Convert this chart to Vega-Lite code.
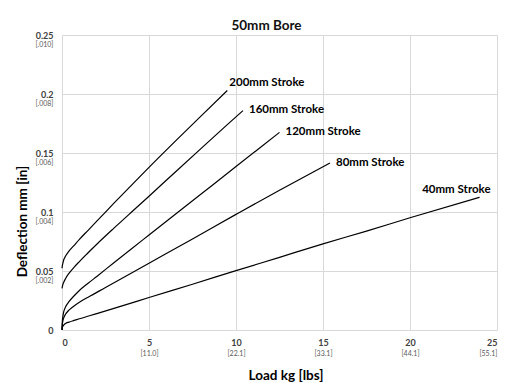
{
  "$schema": "https://vega.github.io/schema/vega-lite/v6.json",
  "width": 435,
  "height": 295,
  "autosize": {"type": "none"},
  "padding": {"left": 62, "top": 35, "right": 26, "bottom": 53},
  "background": "white",
  "config": {"font": "Lato", "view": {"stroke": null}},
  "title": {"text": "50mm Bore", "font": "Lato", "fontSize": 13.5, "fontWeight": "bold", "color": "#111111", "anchor": "middle", "frame": "group", "dx": -13, "offset": -1},
  "datasets": {
    "curves": [
      {"series": "40mm", "kg": 0, "defl": 0},
      {"series": "40mm", "kg": 0.02, "defl": 0.0022},
      {"series": "40mm", "kg": 0.05, "defl": 0.0032},
      {"series": "40mm", "kg": 0.1, "defl": 0.0042},
      {"series": "40mm", "kg": 0.2, "defl": 0.0055},
      {"series": "40mm", "kg": 0.4, "defl": 0.0067},
      {"series": "40mm", "kg": 0.7, "defl": 0.0081},
      {"series": "40mm", "kg": 1, "defl": 0.0095},
      {"series": "40mm", "kg": 2, "defl": 0.0139},
      {"series": "40mm", "kg": 3.5, "defl": 0.0206},
      {"series": "40mm", "kg": 5, "defl": 0.0275},
      {"series": "40mm", "kg": 7.5, "defl": 0.0388},
      {"series": "40mm", "kg": 10, "defl": 0.0503},
      {"series": "40mm", "kg": 12.5, "defl": 0.0616},
      {"series": "40mm", "kg": 15, "defl": 0.073},
      {"series": "40mm", "kg": 17.5, "defl": 0.0838},
      {"series": "40mm", "kg": 20, "defl": 0.0951},
      {"series": "40mm", "kg": 24, "defl": 0.1125},
      {"series": "80mm", "kg": 0, "defl": 0},
      {"series": "80mm", "kg": 0.02, "defl": 0.0048},
      {"series": "80mm", "kg": 0.05, "defl": 0.0077},
      {"series": "80mm", "kg": 0.1, "defl": 0.0103},
      {"series": "80mm", "kg": 0.2, "defl": 0.0133},
      {"series": "80mm", "kg": 0.35, "defl": 0.0161},
      {"series": "80mm", "kg": 0.6, "defl": 0.0193},
      {"series": "80mm", "kg": 1, "defl": 0.0235},
      {"series": "80mm", "kg": 1.5, "defl": 0.0278},
      {"series": "80mm", "kg": 2.5, "defl": 0.036},
      {"series": "80mm", "kg": 5, "defl": 0.0566},
      {"series": "80mm", "kg": 7.5, "defl": 0.0772},
      {"series": "80mm", "kg": 10, "defl": 0.098},
      {"series": "80mm", "kg": 12.5, "defl": 0.1185},
      {"series": "80mm", "kg": 15.4, "defl": 0.1415},
      {"series": "120mm", "kg": 0, "defl": 0},
      {"series": "120mm", "kg": 0.02, "defl": 0.0075},
      {"series": "120mm", "kg": 0.05, "defl": 0.0115},
      {"series": "120mm", "kg": 0.1, "defl": 0.0155},
      {"series": "120mm", "kg": 0.2, "defl": 0.0195},
      {"series": "120mm", "kg": 0.4, "defl": 0.024},
      {"series": "120mm", "kg": 0.7, "defl": 0.029},
      {"series": "120mm", "kg": 1, "defl": 0.0335},
      {"series": "120mm", "kg": 1.5, "defl": 0.0396},
      {"series": "120mm", "kg": 2, "defl": 0.0454},
      {"series": "120mm", "kg": 3, "defl": 0.0572},
      {"series": "120mm", "kg": 4, "defl": 0.0689},
      {"series": "120mm", "kg": 5, "defl": 0.0805},
      {"series": "120mm", "kg": 7.5, "defl": 0.1095},
      {"series": "120mm", "kg": 10, "defl": 0.1385},
      {"series": "120mm", "kg": 12.5, "defl": 0.1675},
      {"series": "160mm", "kg": 0, "defl": 0.0353},
      {"series": "160mm", "kg": 0.02, "defl": 0.0368},
      {"series": "160mm", "kg": 0.05, "defl": 0.0385},
      {"series": "160mm", "kg": 0.1, "defl": 0.0405},
      {"series": "160mm", "kg": 0.2, "defl": 0.0435},
      {"series": "160mm", "kg": 0.4, "defl": 0.048},
      {"series": "160mm", "kg": 0.7, "defl": 0.0533},
      {"series": "160mm", "kg": 1, "defl": 0.058},
      {"series": "160mm", "kg": 1.5, "defl": 0.0655},
      {"series": "160mm", "kg": 2, "defl": 0.0727},
      {"series": "160mm", "kg": 3, "defl": 0.0865},
      {"series": "160mm", "kg": 4, "defl": 0.1},
      {"series": "160mm", "kg": 5, "defl": 0.1134},
      {"series": "160mm", "kg": 6.5, "defl": 0.1337},
      {"series": "160mm", "kg": 8, "defl": 0.1539},
      {"series": "160mm", "kg": 9.5, "defl": 0.174},
      {"series": "160mm", "kg": 10.4, "defl": 0.1859},
      {"series": "200mm", "kg": 0, "defl": 0.0523},
      {"series": "200mm", "kg": 0.02, "defl": 0.0545},
      {"series": "200mm", "kg": 0.05, "defl": 0.0565},
      {"series": "200mm", "kg": 0.1, "defl": 0.0595},
      {"series": "200mm", "kg": 0.2, "defl": 0.0625},
      {"series": "200mm", "kg": 0.4, "defl": 0.0668},
      {"series": "200mm", "kg": 0.7, "defl": 0.0718},
      {"series": "200mm", "kg": 1, "defl": 0.0768},
      {"series": "200mm", "kg": 1.5, "defl": 0.0845},
      {"series": "200mm", "kg": 2, "defl": 0.0922},
      {"series": "200mm", "kg": 3, "defl": 0.1077},
      {"series": "200mm", "kg": 4, "defl": 0.1228},
      {"series": "200mm", "kg": 5, "defl": 0.1378},
      {"series": "200mm", "kg": 6.5, "defl": 0.1598},
      {"series": "200mm", "kg": 8, "defl": 0.1815},
      {"series": "200mm", "kg": 9.5, "defl": 0.203}
    ],
    "labels": [
      {"series": "200mm", "text": "200mm Stroke", "kg": 9.5, "defl": 0.203},
      {"series": "160mm", "text": "160mm Stroke", "kg": 10.4, "defl": 0.1859},
      {"series": "120mm", "text": "120mm Stroke", "kg": 12.5, "defl": 0.1675},
      {"series": "80mm", "text": "80mm Stroke", "kg": 15.4, "defl": 0.1415},
      {"series": "40mm", "text": "40mm Stroke", "kg": 24, "defl": 0.1125}
    ]
  },
  "resolve": {"axis": {"x": "independent", "y": "independent"}},
  "layer": [
    {
      "data": {"name": "curves"},
      "mark": {"type": "line", "interpolate": "monotone", "color": "#000000", "strokeWidth": 1.2},
      "encoding": {
        "x": {"field": "kg", "type": "quantitative", "scale": {"domain": [0, 25], "nice": false},
          "axis": {"values": [0, 5, 10, 15, 20, 25], "format": "~g", "title": "Load kg [lbs]", "titleFont": "Lato", "titleFontSize": 13.5, "titleFontWeight": "bold", "titleColor": "#000000", "titlePadding": 21, "titleX": 223.5,
            "labelFont": "Lato", "labelFontSize": 9, "labelFontWeight": "bold", "labelColor": "#404040", "labelPadding": 8, "ticks": false, "domain": false,
            "grid": true, "gridColor": "#d9d9d9", "gridWidth": 1}},
        "y": {"field": "defl", "type": "quantitative", "scale": {"domain": [0, 0.25], "nice": false},
          "axis": {"values": [0, 0.05, 0.1, 0.15, 0.2, 0.25], "format": ".2~f", "title": "Deflection mm [in]", "titleFont": "Lato", "titleFontSize": 13.5, "titleFontWeight": "bold", "titleColor": "#000000", "titlePadding": 6, "titleY": 186,
            "labelFont": "Lato", "labelFontSize": 9, "labelFontWeight": "bold", "labelColor": "#404040", "labelPadding": 9, "ticks": false, "domain": false,
            "grid": true, "gridColor": "#d9d9d9", "gridWidth": 1}},
        "detail": {"field": "series"}
      }
    },
    {
      "data": {"name": "curves"},
      "mark": {"type": "line", "interpolate": "monotone", "strokeOpacity": 0},
      "encoding": {
        "x": {"field": "kg", "type": "quantitative", "scale": {"domain": [0, 25], "nice": false},
          "axis": {"orient": "bottom", "values": [5, 10, 15, 20, 25], "title": null,
            "labelExpr": "datum.value == 5 ? '[11.0]' : datum.value == 10 ? '[22.1]' : datum.value == 15 ? '[33.1]' : datum.value == 20 ? '[44.1]' : datum.value == 25 ? '[55.1]' : ''",
            "labelFont": "Lato", "labelFontSize": 7, "labelColor": "#595959", "labelPadding": 19, "ticks": false, "domain": false, "grid": false}},
        "y": {"field": "defl", "type": "quantitative", "scale": {"domain": [0, 0.25], "nice": false},
          "axis": {"orient": "left", "values": [0.05, 0.1, 0.15, 0.2, 0.25], "title": null,
            "labelExpr": "datum.value == 0.05 ? '[.002]' : datum.value == 0.1 ? '[.004]' : datum.value == 0.15 ? '[.006]' : datum.value == 0.2 ? '[.008]' : datum.value == 0.25 ? '[.010]' : ''",
            "labelFont": "Lato", "labelFontSize": 7, "labelColor": "#595959", "labelPadding": 9, "labelOffset": 9, "ticks": false, "domain": false, "grid": false}},
        "detail": {"field": "series"}
      }
    },
    {
      "data": {"name": "labels"},
      "transform": [{"filter": "datum.series == '200mm'"}],
      "mark": {"type": "text", "align": "left", "baseline": "middle", "dx": 2, "dy": -7, "font": "Lato", "fontSize": 11.5, "fontWeight": "bold", "color": "#000000"},
      "encoding": {
        "x": {"field": "kg", "type": "quantitative", "axis": null},
        "y": {"field": "defl", "type": "quantitative", "axis": null},
        "text": {"field": "text"}
      }
    },
    {
      "data": {"name": "labels"},
      "transform": [{"filter": "datum.series == '160mm' || datum.series == '120mm' || datum.series == '80mm'"}],
      "mark": {"type": "text", "align": "left", "baseline": "middle", "dx": 6, "dy": -0.5, "font": "Lato", "fontSize": 11.5, "fontWeight": "bold", "color": "#000000"},
      "encoding": {
        "x": {"field": "kg", "type": "quantitative", "axis": null},
        "y": {"field": "defl", "type": "quantitative", "axis": null},
        "text": {"field": "text"}
      }
    },
    {
      "data": {"name": "labels"},
      "transform": [{"filter": "datum.series == '40mm'"}],
      "mark": {"type": "text", "align": "right", "baseline": "middle", "dx": 11, "dy": -7.5, "font": "Lato", "fontSize": 11.5, "fontWeight": "bold", "color": "#000000"},
      "encoding": {
        "x": {"field": "kg", "type": "quantitative", "axis": null},
        "y": {"field": "defl", "type": "quantitative", "axis": null},
        "text": {"field": "text"}
      }
    }
  ]
}
